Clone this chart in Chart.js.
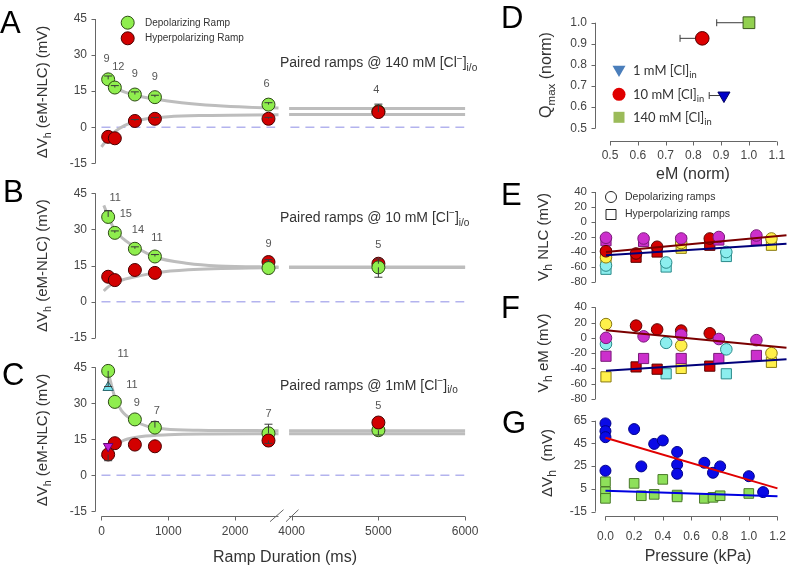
<!DOCTYPE html>
<html><head><meta charset="utf-8"><title>Ramp duration and pressure effects</title>
<script src="https://cdn.jsdelivr.net/npm/chart.js@4/dist/chart.umd.min.js"></script>
<style>html,body{margin:0;padding:0;background:#fff}#wrap{position:relative;width:799px;height:568px;overflow:hidden;background:#fff}#wrap canvas{position:absolute;left:0;top:0}</style>
</head><body><div id="wrap"></div>
<script>
// ================= DATA =================
// Panels A–C : ΔVh (eM-NLC) vs ramp duration (ms)
const rampMs = [100, 200, 500, 800, 2500, 5000];
const zeroLeftX = [0, 2600];
const zeroRightX = [3985, 5990];
const plateauX = [3970, 6000];
const yTicksABC = [45, 30, 15, 0, -15];
const xTicksLeft = [0, 1000, 2000];
const xTicksRight = [4000, 5000, 6000];

// A : 140 mM [Cl-]
const nA = ['9', '12', '9', '9', '6', '4'];
const depolA = [19.9, 16.5, 13.6, 12.5, 9.4, 6.6];
const depolErrA = [1.4, 0.8, 1.1, 0.8, 0.8, 0];
const hyperA = [-4.0, -4.6, 2.6, 3.5, 3.5, 6.3];
const hyperErrA = [0, 0, 0.6, 0.6, 0.6, 3.3];
const fitDepolAX = [200, 350, 500, 800, 1200, 1700, 2200, 2650];
const fitDepolAY = [16.3, 14.6, 13.3, 11.7, 10.2, 9.0, 8.3, 8.0];
const fitHyperAX = [0, 100, 200, 350, 500, 700, 1000, 1500, 2650];
const fitHyperAY = [-8.2, -4.5, -1.8, 0.8, 2.4, 3.6, 4.4, 4.9, 5.2];
const plateauA = [7.8, 5.3];

// B : 10 mM [Cl-]
const nB = ['11', '15', '14', '11', '9', '5'];
const depolB = [35.2, 28.6, 22.0, 18.8, 14.0, 14.3];
const depolErrB = [2.6, 0.8, 0.8, 0.8, 0, -4.1];
const hyperB = [10.4, 9.0, 13.2, 12.0, 16.5, 15.8];
const hyperErrB = [0, 0, 0, 0, 1.0, 2.0];
const fitDepolBX = [35, 100, 200, 350, 500, 800, 1300, 1750, 2650];
const fitDepolBY = [40.0, 35.5, 29.7, 25.6, 22.9, 18.6, 15.9, 14.9, 14.4];
const fitHyperBX = [35, 100, 200, 350, 500, 800, 1300, 2650];
const fitHyperBY = [4.5, 6.2, 7.9, 9.4, 10.4, 12.0, 13.3, 14.2];
const plateauB = [14.4, 14.2];

// C : 1 mM [Cl-]
const nC = ['11', '11', '9', '7', '7', '5'];
const depolC = [43.5, 30.6, 23.3, 19.9, 17.5, 18.8];
const depolErrC = [-6.5, 0, 0, 2.5, 3.8, -2.0];
const hyperC = [8.7, 13.4, 12.8, 12.1, 14.5, 22.0];
const hyperErrC = [-2.6, 0, 0, 0, -1.2, 0];
const fitDepolCX = [100, 200, 300, 500, 700, 950, 1450, 2650];
const fitDepolCY = [43.0, 32.5, 27.0, 22.6, 20.3, 19.3, 18.8, 18.6];
const fitHyperCX = [0, 100, 200, 350, 600, 1000, 1600, 2650];
const fitHyperCY = [7.6, 10.4, 12.5, 14.8, 16.2, 16.9, 17.2, 17.3];
const plateauC = [18.6, 17.3];
const cyanTriX = [100], cyanTriY = [36.6];
const magTriX = [100], magTriY = [12.1];

// D : Qmax vs eM (normalised)
const dEm = [0.91, 0.832, 1.0];           // 1 mM, 10 mM, 140 mM
const dQmax = [0.655, 0.926, 1.0];
const dEmErr = [-0.053, -0.08, -0.116];
const dYTicks = [0.5, 0.6, 0.7, 0.8, 0.9, 1.0];
const dXTicks = [0.5, 0.6, 0.7, 0.8, 0.9, 1.0, 1.1];

// E / F / G : vs pressure (kPa)
const efYTicks = [40, 20, 0, -20, -40, -60, -80];
const gYTicks = [65, 45, 25, 5, -15];
const pressTicks = [0, 0.2, 0.4, 0.6, 0.8, 1.0, 1.2];
const trendX = [0, 1.2];

// E : Vh NLC
const eMagX = [0, 0.25, 0.5, 0.75, 1.0];
const eMagCirc = [-21, -22, -22, -20, -18];
const eMagSq = [-25, -26, -25, -24, -24];
const eRedX = [0, 0.2, 0.34, 0.69];
const eRedCirc = [-39, -42, -33, -22];
const eRedSq = [-42, -47, -40, -31];
const eYelX = [0, 0.5, 1.1];
const eYelCirc = [-47, -28, -22];
const eYelSq = [-53, -35, -31];
const eCyaX = [0, 0.4, 0.8];
const eCyaCirc = [-58, -54, -40];
const eCyaSq = [-63, -60, -46];
const eTrendRed = [-40, -17.8];
const eTrendBlue = [-44.4, -29];

// F : Vh eM
const fMagX = [0, 0.25, 0.5, 0.75, 1.0];
const fMagCirc = [0, 2, 4, -1.5, -3];
const fMagSq = [-24, -27, -27, -27, -23];
const fRedCircX = [0.2, 0.34, 0.5, 0.69];
const fRedCirc = [16, 11, 9.5, 6];
const fRedSqX = [0.2, 0.34, 0.69];
const fRedSq = [-38, -41, -37];
const fYelX = [0, 0.5, 1.1];
const fYelCirc = [18, -10, -20];
const fYelSq = [-51, -40, -32];
const fCyaCircX = [0, 0.4, 0.8];
const fCyaCirc = [-8, -6.5, -15];
const fCyaSqX = [0.4, 0.8];
const fCyaSq = [-47, -47];
const fTrendRed = [10, -13];
const fTrendBlue = [-43, -28];

// G : ΔVh
const gBlueX = [0, 0, 0, 0, 0.2, 0.25, 0.34, 0.4, 0.5, 0.5, 0.5, 0.69, 0.75, 0.8, 1.0, 1.1];
const gBlueY = [62.6, 55.8, 50.5, 21, 57.6, 24.8, 44.6, 47.6, 37.5, 26.3, 18.3, 28, 19.2, 24.8, 16.2, 2.2];
const gGreenX = [0, 0, 0, 0.2, 0.25, 0.34, 0.4, 0.5, 0.5, 0.69, 0.75, 0.8, 1.0];
const gGreenY = [11.3, 2.5, -3.3, 9.9, -1, 0.2, 13.4, -0.4, -2, -3.3, -2.4, -1, 1];
const gTrendRed = [50, 5.5];
const gTrendBlue = [3.5, -1.5];

// ================= DRAWING =================
const W = 799, H = 568;
const FONT = "'Liberation Sans', Arial, sans-serif";
const INK = '#222', TICK = '#444', AXIS = '#666';
const GREEN = '#8fee4e', GREEN_B = '#2d4a14', RED = '#d20000', RED_B = '#4a0000';
const FIT = '#bdbdbd', ZERO = '#b3b3ee';

function pts(xs, ys, es, lo, hi, key) {
  const out = [];
  xs.forEach((x, i) => {
    if (lo !== undefined && (x < lo || x > hi)) return;
    const p = {x: x, y: ys[i]};
    if (es) p[key || 'e'] = es[i];
    out.push(p);
  });
  return out;
}
function marker(data, fill, stroke, r, style, order, rot) {
  return {data, showLine: false, pointStyle: style || 'circle', pointRadius: r, pointHoverRadius: r,
    pointBackgroundColor: fill, pointBorderColor: stroke, pointBorderWidth: 1, pointRotation: rot || 0,
    order: order, clip: false};
}
function curve(data, color, width, order, opt) {
  opt = opt || {};
  return {data, showLine: true, pointRadius: 0, pointHoverRadius: 0, borderColor: color, borderWidth: width,
    borderDash: opt.dash || [], cubicInterpolationMode: opt.smooth ? 'monotone' : 'default', tension: 0,
    fill: false, order: order, clip: false};
}
function richText(ctx, it) {
  const size = it.s || 12, fam = it.f || FONT;
  const parts = typeof it.p === 'string' ? [[it.p, '']] : it.p;
  ctx.save();
  ctx.translate(it.x, it.y);
  if (it.r) ctx.rotate(it.r * Math.PI / 180);
  ctx.fillStyle = it.c || INK; ctx.textAlign = 'left'; ctx.textBaseline = it.bl || 'middle';
  const fz = m => (m ? size * (it.k || 0.72) : size);
  let w = 0;
  parts.forEach(([t, m]) => { ctx.font = fz(m) + 'px ' + fam; w += ctx.measureText(t).width; });
  let x = it.a === 'center' ? -w / 2 : (it.a === 'right' ? -w : 0);
  parts.forEach(([t, m]) => {
    ctx.font = fz(m) + 'px ' + fam;
    const dy = m === 'b' ? size * 0.32 : (m === 'p' ? -size * 0.34 : 0);
    ctx.fillText(t, x, dy);
    x += ctx.measureText(t).width;
  });
  ctx.restore();
}
function drawMark(ctx, m) {
  ctx.save(); ctx.fillStyle = m.fill; ctx.strokeStyle = m.stroke || m.fill; ctx.lineWidth = 1; ctx.beginPath();
  const r = m.r;
  if (m.shape === 'circle') ctx.arc(m.x, m.y, r, 0, Math.PI * 2);
  else if (m.shape === 'square') ctx.rect(m.x - r, m.y - r, 2 * r, 2 * r);
  else if (m.shape === 'triDown') { ctx.moveTo(m.x - r, m.y - r * 0.75); ctx.lineTo(m.x + r, m.y - r * 0.75); ctx.lineTo(m.x, m.y + r * 0.95); ctx.closePath(); }
  ctx.fill(); if (m.stroke) ctx.stroke(); ctx.restore();
}
function drawAxes(chart, ax) {
  if (!ax) return;
  const ctx = chart.ctx, ca = chart.chartArea;
  ctx.save(); ctx.strokeStyle = AXIS; ctx.lineWidth = 1; ctx.beginPath();
  if (ax.x) {
    const s = chart.scales.x, y = Math.round(ca.bottom) + 0.5;
    ctx.moveTo(s.getPixelForValue(ax.x.from), y); ctx.lineTo(s.getPixelForValue(ax.x.to), y);
    s.ticks.forEach(t => { const px = Math.round(s.getPixelForValue(t.value)) + 0.5; ctx.moveTo(px, y); ctx.lineTo(px, y + ax.x.tick); });
  }
  if (ax.y) {
    const s = chart.scales.y, x = Math.round(ca.left) + 0.5;
    ctx.moveTo(x, s.getPixelForValue(ax.y.from)); ctx.lineTo(x, s.getPixelForValue(ax.y.to));
    s.ticks.forEach(t => { const py = Math.round(s.getPixelForValue(t.value)) + 0.5; ctx.moveTo(x, py); ctx.lineTo(x - ax.y.tick, py); });
  }
  ctx.stroke(); ctx.restore();
}
function drawErr(chart) {
  const ctx = chart.ctx, xs = chart.scales.x, ys = chart.scales.y;
  ctx.save(); ctx.strokeStyle = '#3a3a3a'; ctx.lineWidth = 1; ctx.beginPath();
  chart.data.datasets.forEach(d => {
    if (d.showLine) return;
    d.data.forEach(p => {
      const px = xs.getPixelForValue(p.x), py = ys.getPixelForValue(p.y);
      if (p.e) { const y1 = ys.getPixelForValue(p.y + p.e); ctx.moveTo(px, py); ctx.lineTo(px, y1); ctx.moveTo(px - 4, y1); ctx.lineTo(px + 4, y1); }
      if (p.ex) { const x1 = xs.getPixelForValue(p.x + p.ex); ctx.moveTo(px, py); ctx.lineTo(x1, py); ctx.moveTo(x1, py - 3.5); ctx.lineTo(x1, py + 3.5); }
    });
  });
  ctx.stroke(); ctx.restore();
}
function drawN(chart, n) {
  if (!n) return;
  const ctx = chart.ctx, xs = chart.scales.x, ys = chart.scales.y;
  ctx.save(); ctx.font = '11px ' + FONT; ctx.fillStyle = '#555'; ctx.textAlign = 'center'; ctx.textBaseline = 'middle';
  n.x.forEach((xv, i) => {
    if (xv < xs.min || xv > xs.max) return;
    let top = Infinity;
    chart.data.datasets.forEach(d => {
      if (d.showLine) return;
      d.data.forEach(p => {
        if (p.x !== xv) return;
        top = Math.min(top, ys.getPixelForValue(p.y) - d.pointRadius);
        if (p.e > 0) top = Math.min(top, ys.getPixelForValue(p.y + p.e));
      });
    });
    if (top === Infinity) return;
    ctx.fillText(n.t[i], xs.getPixelForValue(xv) + (n.dx ? n.dx[i] : 0), top - (n.gap || 12));
  });
  ctx.restore();
}
function overlay(cfg) {
  return {
    id: 'overlay',
    beforeDatasetsDraw(chart) { drawAxes(chart, cfg.ax); if (!cfg.errAfter) drawErr(chart); },
    afterDatasetsDraw(chart) { if (cfg.errAfter) drawErr(chart); drawN(chart, cfg.n); },
    afterDraw(chart) {
      (cfg.marks || []).forEach(m => drawMark(chart.ctx, m));
      (cfg.texts || []).forEach(t => richText(chart.ctx, t));
      if (cfg.extra) cfg.extra(chart);
    }
  };
}
function scaleOpt(axis, s, area) {
  const o = {type: 'linear', position: axis === 'x' ? 'bottom' : 'left', min: s.min, max: s.max, display: !!s.show,
    grid: {display: false, drawTicks: false}, border: {display: false},
    ticks: {autoSkip: false, maxRotation: 0, minRotation: 0, padding: s.pad == null ? 8 : s.pad, color: TICK,
      font: {family: FONT, size: s.fs || 12}, callback: v => (s.dec ? Number(v).toFixed(s.dec) : String(v))},
    afterBuildTicks: sc => { sc.ticks = (s.ticks || []).map(v => ({value: v})); }
  };
  if (s.show) o.afterFit = sc => { if (axis === 'x') sc.height = H - area.b; else sc.width = area.l; };
  return o;
}
function build(area, sx, sy, datasets, cfg) {
  const cv = document.createElement('canvas');
  cv.width = W; cv.height = H; cv.style.width = W + 'px'; cv.style.height = H + 'px';
  document.getElementById('wrap').appendChild(cv);
  return new Chart(cv, {
    type: 'scatter',
    data: {datasets},
    options: {
      responsive: false, maintainAspectRatio: false, animation: false, devicePixelRatio: 1, events: [],
      layout: {autoPadding: false, padding: {left: sy.show ? 0 : area.l, right: W - area.r, top: area.t, bottom: sx.show ? 0 : H - area.b}},
      scales: {x: scaleOpt('x', sx, area), y: scaleOpt('y', sy, area)},
      plugins: {legend: {display: false}, tooltip: {enabled: false}}
    },
    plugins: [overlay(cfg)]
  });
}

// ---------- rows A–C ----------
const LEFT = {l: 95, r: 278.5, min: -97, max: 2650};
const RIGHT = {l: 289.1, r: 465.1, min: 3970, max: 6000};
function clTitle(y, conc) {
  return {x: 280, y: y, s: 14, c: '#333', p: [['Paired ramps @ ' + conc + ' [Cl', ''], ['\u2212', 'p'], [']', ''], ['i/o', 'b']]};
}
function yTitleABC(y) {
  return {x: 43, y: y, s: 15, r: -90, a: 'center', c: '#333', p: [['\u0394V', ''], ['h', 'b'], [' (eM-NLC) (mV)', '']]};
}
function rampRow(row, d) {
  const sy = {min: row.ymin, max: row.ymax, ticks: yTicksABC, show: true, pad: 8};
  const gOrd = d.redTop ? 2 : 1, rOrd = d.redTop ? 1 : 2;
  const leftSets = [
    marker(pts(rampMs, d.depol, d.depolErr, -1000, 2700), GREEN, GREEN_B, 6.5, 'circle', gOrd),
    marker(pts(rampMs, d.hyper, d.hyperErr, -1000, 2700), RED, RED_B, 6.5, 'circle', rOrd),
    curve(pts(d.fdx, d.fdy), FIT, 3, 5, {smooth: true}),
    curve(pts(d.fhx, d.fhy), FIT, 3, 5, {smooth: true}),
    curve(pts(zeroLeftX, [0, 0]), ZERO, 1.5, 6, {dash: [9, 6]})
  ].concat(d.extraSets || []);
  const rightSets = [
    marker(pts(rampMs, d.depol, d.depolErr, 3900, 7000), GREEN, GREEN_B, 6.5, 'circle', gOrd),
    marker(pts(rampMs, d.hyper, d.hyperErr, 3900, 7000), RED, RED_B, 6.5, 'circle', rOrd),
    curve(pts(plateauX, [d.plateau[0], d.plateau[0]]), FIT, 3, 5),
    curve(pts(plateauX, [d.plateau[1], d.plateau[1]]), FIT, 3, 5),
    curve(pts(zeroRightX, [0, 0]), ZERO, 1.5, 6, {dash: [9, 6]})
  ];
  const n = {x: rampMs, t: d.n, dx: d.dx, gap: d.gap};
  build({l: LEFT.l, r: LEFT.r, t: row.t, b: row.b},
    {min: LEFT.min, max: LEFT.max, ticks: xTicksLeft, show: !!d.showX, pad: 9},
    sy, leftSets,
    {ax: {y: {from: -15, to: 45, tick: 4}, x: d.showX ? {from: 0, to: LEFT.max, tick: 4} : null},
     errAfter: true, n: n, texts: d.textsLeft, marks: d.marksLeft, extra: d.extraLeft});
  build({l: RIGHT.l, r: RIGHT.r, t: row.t, b: row.b},
    {min: RIGHT.min, max: RIGHT.max, ticks: xTicksRight, show: !!d.showX, pad: 9},
    {min: row.ymin, max: row.ymax, ticks: yTicksABC, show: false},
    rightSets,
    {ax: {x: d.showX ? {from: RIGHT.min, to: RIGHT.max, tick: 4} : null}, errAfter: true, n: n, texts: d.textsRight});
}

rampRow({t: 19, b: 163.3, ymin: -15, ymax: 45}, {
  depol: depolA, depolErr: depolErrA, hyper: hyperA, hyperErr: hyperErrA,
  fdx: fitDepolAX, fdy: fitDepolAY, fhx: fitHyperAX, fhy: fitHyperAY, plateau: plateauA,
  n: nA, dx: [-1.5, 3.5, 0, 0, -2, -2], gap: 14, redTop: true,
  textsLeft: [
    {x: 0, y: 33, s: 31, bl: 'alphabetic', c: '#000', p: 'A'},
    yTitleABC(92),
    {x: 145, y: 23, s: 10, c: '#333', p: 'Depolarizing Ramp'},
    {x: 145, y: 38.5, s: 10, c: '#333', p: 'Hyperpolarizing Ramp'}
  ],
  marksLeft: [
    {shape: 'circle', x: 127.7, y: 22.7, r: 6.5, fill: GREEN, stroke: GREEN_B},
    {shape: 'circle', x: 127.7, y: 38.3, r: 6.5, fill: RED, stroke: RED_B}
  ],
  textsRight: [clTitle(63.5, '140 mM')]
});

rampRow({t: 193.3, b: 338, ymin: -15, ymax: 45}, {
  depol: depolB, depolErr: depolErrB, hyper: hyperB, hyperErr: hyperErrB,
  fdx: fitDepolBX, fdy: fitDepolBY, fhx: fitHyperBX, fhy: fitHyperBY, plateau: plateauB,
  n: nB, dx: [7, 11, 3, 2, 0, 0], gap: 12, redTop: false,
  textsLeft: [
    {x: 3, y: 201.5, s: 31, bl: 'alphabetic', c: '#000', p: 'B'},
    yTitleABC(265.7)
  ],
  textsRight: [clTitle(218.3, '10 mM')]
});

rampRow({t: 367.3, b: 515.7, ymin: -16.8, ymax: 45}, {
  depol: depolC, depolErr: depolErrC, hyper: hyperC, hyperErr: hyperErrC,
  fdx: fitDepolCX, fdy: fitDepolCY, fhx: fitHyperCX, fhy: fitHyperCY, plateau: plateauC,
  n: nC, dx: [15, 17, 2, 2, 0, 0], gap: 10, redTop: true, showX: true,
  extraSets: [
    marker(pts(cyanTriX, cyanTriY), '#77e3ee', '#2a6a70', 6, 'triangle', 0),
    marker(pts(magTriX, magTriY), '#c020d8', '#600070', 5.5, 'triangle', 0, 180)
  ],
  textsLeft: [
    {x: 2, y: 385, s: 31, bl: 'alphabetic', c: '#000', p: 'C'},
    yTitleABC(440),
    {x: 285, y: 557.7, s: 16, a: 'center', c: '#333', p: 'Ramp Duration (ms)'}
  ],
  extraLeft: chart => {
    const ca = chart.chartArea, ctx = chart.ctx, b = ca.bottom, r = ca.right;
    ctx.save(); ctx.strokeStyle = AXIS; ctx.lineWidth = 1; ctx.beginPath();
    ctx.moveTo(r - 8.5, b + 6); ctx.lineTo(r + 5, b - 6);
    ctx.moveTo(r + 7.5, b + 6); ctx.lineTo(r + 20, b - 6);
    ctx.stroke(); ctx.restore();
  },
  textsRight: [clTitle(386, '1mM')]
});

// ---------- D ----------
build({l: 595, r: 782.3, t: 18.5, b: 140.7},
  {min: 0.446, max: 1.12, ticks: dXTicks, show: true, pad: 8, dec: 1},
  {min: 0.441, max: 1.02, ticks: dYTicks, show: true, pad: 8, dec: 1},
  [
    marker([{x: dEm[2], y: dQmax[2], ex: dEmErr[2]}], '#92d050', '#3c5a1e', 8.3, 'rect', 1),
    marker([{x: dEm[1], y: dQmax[1], ex: dEmErr[1]}], '#dd0000', '#550000', 6.8, 'circle', 1),
    marker([{x: dEm[0], y: dQmax[0], ex: dEmErr[0]}], '#0000c8', '#000060', 7, 'triangle', 1, 180)
  ],
  {ax: {x: {from: 0.5, to: 1.1, tick: 4}, y: {from: 0.5, to: 1.0, tick: 4}}, errAfter: false,
   marks: [
     {shape: 'triDown', x: 619, y: 70.7, r: 6.5, fill: '#4a7ebb'},
     {shape: 'circle', x: 619, y: 94.3, r: 6.5, fill: '#e00000'},
     {shape: 'square', x: 619, y: 117.3, r: 5.5, fill: '#9bbb59'}
   ],
   texts: [
     {x: 501, y: 28, s: 31, bl: 'alphabetic', c: '#000', p: 'D'},
     {x: 546.7, y: 75, s: 16, r: -90, a: 'center', c: '#333', p: [['Q', ''], ['max', 'b'], [' (norm)', '']]},
     {x: 693, y: 175, s: 16, a: 'center', c: '#333', p: 'eM (norm)'},
     {x: 633, y: 71, s: 13, f: "Lato, 'Open Sans', sans-serif", c: '#333', p: [['1 mM [Cl]', ''], ['in', 'b']]},
     {x: 633, y: 94.5, s: 13, f: "Lato, 'Open Sans', sans-serif", c: '#333', p: [['10 mM [Cl]', ''], ['in', 'b']]},
     {x: 633, y: 117.5, s: 13, f: "Lato, 'Open Sans', sans-serif", c: '#333', p: [['140 mM [Cl]', ''], ['in', 'b']]}
   ]});

// ---------- E / F / G ----------
const PX = {l: 595, r: 791, min: -0.073, max: 1.23};
const MAG = ['#cc2fcc', '#7a1a7a'], REDc = ['#d40000', '#5a0000'], YEL = ['#fff04a', '#8a7a10'], CYA = ['#8ceeee', '#2a8a8a'];
function circ(xs, ys, c) { return marker(pts(xs, ys), c[0], c[1], 5.8, 'circle', 1); }
function sq(xs, ys, c) { return marker(pts(xs, ys), c[0], c[1], 7.2, 'rect', 2); }

build({l: PX.l, r: PX.r, t: 192, b: 282},
  {min: PX.min, max: PX.max, ticks: pressTicks, show: false},
  {min: -80, max: 40, ticks: efYTicks, show: true, pad: 8, fs: 11.5},
  [
    curve(pts(trendX, eTrendRed), '#7a0000', 2, 0),
    curve(pts(trendX, eTrendBlue), '#00007a', 2, 0),
    sq(eMagX, eMagSq, MAG), sq(eRedX, eRedSq, REDc), sq(eYelX, eYelSq, YEL), sq(eCyaX, eCyaSq, CYA),
    circ(eMagX, eMagCirc, MAG), circ(eRedX, eRedCirc, REDc), circ(eYelX, eYelCirc, YEL), circ(eCyaX, eCyaCirc, CYA)
  ],
  {ax: {y: {from: -80, to: 40, tick: 4}},
   marks: [
     {shape: 'circle', x: 611, y: 197, r: 5.5, fill: '#fff', stroke: '#222'},
     {shape: 'square', x: 611, y: 214.5, r: 5, fill: '#fff', stroke: '#222'}
   ],
   texts: [
     {x: 501, y: 205, s: 31, bl: 'alphabetic', c: '#000', p: 'E'},
     {x: 544, y: 237, s: 15, r: -90, a: 'center', c: '#333', p: [['V', ''], ['h', 'b'], [' NLC (mV)', '']], k: 0.85},
     {x: 625, y: 197, s: 10.5, c: '#333', p: 'Depolarizing ramps'},
     {x: 625, y: 214.5, s: 10.5, c: '#333', p: 'Hyperpolarizing ramps'}
   ]});

build({l: PX.l, r: PX.r, t: 307.3, b: 399},
  {min: PX.min, max: PX.max, ticks: pressTicks, show: false},
  {min: -80, max: 40, ticks: efYTicks, show: true, pad: 8, fs: 11.5},
  [
    curve(pts(trendX, fTrendRed), '#7a0000', 2, 0),
    curve(pts(trendX, fTrendBlue), '#00007a', 2, 0),
    sq(fMagX, fMagSq, MAG), sq(fRedSqX, fRedSq, REDc), sq(fYelX, fYelSq, YEL), sq(fCyaSqX, fCyaSq, CYA),
    circ(fMagX, fMagCirc, MAG), circ(fRedCircX, fRedCirc, REDc), circ(fYelX, fYelCirc, YEL), circ(fCyaCircX, fCyaCirc, CYA)
  ],
  {ax: {y: {from: -80, to: 40, tick: 4}},
   texts: [
     {x: 501, y: 318, s: 31, bl: 'alphabetic', c: '#000', p: 'F'},
     {x: 544, y: 353, s: 15, r: -90, a: 'center', c: '#333', p: [['V', ''], ['h', 'b'], [' eM (mV)', '']], k: 0.85}
   ]});

build({l: PX.l, r: PX.r, t: 418.4, b: 516},
  {min: PX.min, max: PX.max, ticks: pressTicks, show: true, pad: 13, dec: 1},
  {min: -18.8, max: 67, ticks: gYTicks, show: true, pad: 8},
  [
    curve(pts(trendX, gTrendRed), '#e00000', 2, 0),
    curve(pts(trendX, gTrendBlue), '#0000e0', 2, 0),
    marker(pts(gBlueX, gBlueY), '#0a0ae6', '#00008a', 5.5, 'circle', 1),
    marker(pts(gGreenX, gGreenY), '#8ee05a', '#4a7a2a', 6.8, 'rect', 2)
  ],
  {ax: {x: {from: 0, to: 1.2, tick: 4}, y: {from: -15, to: 65, tick: 4}},
   texts: [
     {x: 502, y: 433, s: 31, bl: 'alphabetic', c: '#000', p: 'G'},
     {x: 548, y: 463, s: 15, r: -90, a: 'center', c: '#333', p: [['\u0394V', ''], ['h', 'b'], ['  (mV)', '']], k: 0.85},
     {x: 698, y: 556.7, s: 16, a: 'center', c: '#333', p: 'Pressure (kPa)'}
   ]});
</script></body></html>
